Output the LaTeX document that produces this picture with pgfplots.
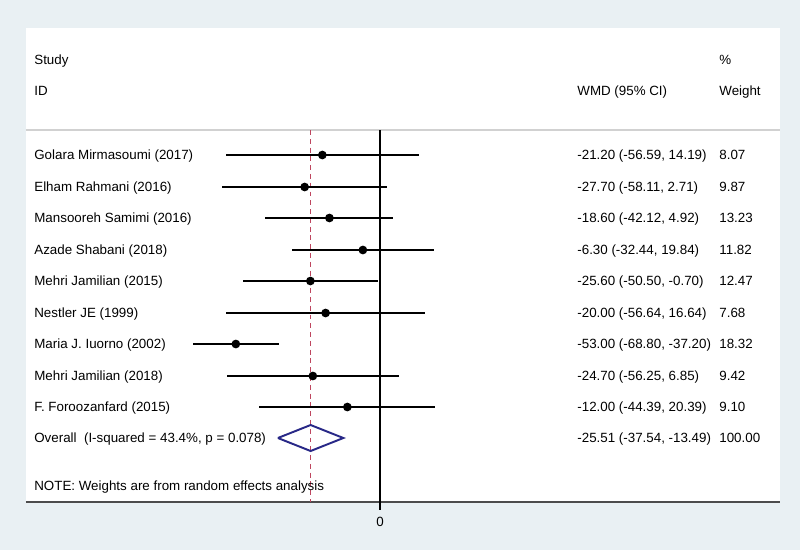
\documentclass[border=0pt]{standalone}
\usepackage{pgfplots}
\pgfplotsset{compat=1.18}
\usepackage{pgfplotstable}
\usepackage{fontspec}
\setmainfont{Liberation Sans}

\definecolor{bgblue}{RGB}{233,240,243}
\definecolor{refred}{RGB}{190,70,95}
\definecolor{navy}{RGB}{40,40,135}

\tikzset{lbl/.style={anchor=base west, inner sep=0pt, yshift=-2.7pt,
  font=\fontsize{7.6}{9}\selectfont}}

% y = row position (px from top), est, lower, upper
\pgfplotstableread{
y    est     lo      hi
155 -21.20 -56.59  14.19
187 -27.70 -58.11   2.71
218 -18.60 -42.12   4.92
250  -6.30 -32.44  19.84
281 -25.60 -50.50  -0.70
313 -20.00 -56.64  16.64
344 -53.00 -68.80 -37.20
376 -24.70 -56.25   6.85
407 -12.00 -44.39  20.39
}\studies

\begin{document}
\begin{tikzpicture}
\fill[bgblue] (0,0) rectangle (16cm,11cm);
\begin{axis}[
  at={(0,0)}, anchor=south west,
  scale only axis, width=16cm, height=11cm,
  xmin=-139.7, xmax=154.4,
  ymin=0, ymax=550, y dir=reverse,
  axis lines=none, clip=false,
]
% panel
\fill[white] (axis cs:-130.15,28) rectangle (axis cs:147.06,502);
\draw[black!18, line width=1.1pt] (axis cs:-130.15,130) -- (axis cs:147.06,130);
\draw[black!70, line width=0.9pt] (axis cs:-130.15,502) -- (axis cs:147.06,502);

% reference lines
\addplot[refred, line width=0.85pt, dash pattern=on 2.8pt off 2.2pt] coordinates {(-25.51,130) (-25.51,502)};
\addplot[black, line width=0.8pt] coordinates {(0,130) (0,510)};

% studies
\addplot[black, only marks, mark=*, mark size=2pt, line width=0.9pt,
  error bars/.cd, x dir=both, x explicit, error mark=none,
  error bar style={line width=0.9pt}]
  table[x=est, y=y,
        x error minus expr=\thisrow{est}-\thisrow{lo},
        x error plus expr=\thisrow{hi}-\thisrow{est}] {\studies};

% overall diamond
\addplot[navy, line width=1.1pt] coordinates {
  (-37.54,438) (-25.51,425) (-13.49,438) (-25.51,451) (-37.54,438)};

% text
\node[lbl] at (axis cs:-127.2,60) {Study};
\node[lbl] at (axis cs:-127.2,91) {ID};
\node[lbl] at (axis cs:72.43,91) {WMD (95\% CI)};
\node[lbl] at (axis cs:124.63,60) {\%};
\node[lbl] at (axis cs:124.63,91) {Weight};

\node[lbl] at (axis cs:-127.2,155) {Golara Mirmasoumi (2017)};
\node[lbl] at (axis cs:-127.2,187) {Elham Rahmani (2016)};
\node[lbl] at (axis cs:-127.2,218) {Mansooreh Samimi (2016)};
\node[lbl] at (axis cs:-127.2,250) {Azade Shabani (2018)};
\node[lbl] at (axis cs:-127.2,281) {Mehri Jamilian (2015)};
\node[lbl] at (axis cs:-127.2,313) {Nestler JE (1999)};
\node[lbl] at (axis cs:-127.2,344) {Maria J. Iuorno (2002)};
\node[lbl] at (axis cs:-127.2,376) {Mehri Jamilian (2018)};
\node[lbl] at (axis cs:-127.2,407) {F. Foroozanfard (2015)};
\node[lbl] at (axis cs:-127.2,438) {Overall\ \ (I-squared = 43.4\%, p = 0.078)};
\node[lbl] at (axis cs:-127.2,486) {NOTE: Weights are from random effects analysis};

\node[lbl] at (axis cs:72.43,155) {-21.20 (-56.59, 14.19)};
\node[lbl] at (axis cs:72.43,187) {-27.70 (-58.11, 2.71)};
\node[lbl] at (axis cs:72.43,218) {-18.60 (-42.12, 4.92)};
\node[lbl] at (axis cs:72.43,250) {-6.30 (-32.44, 19.84)};
\node[lbl] at (axis cs:72.43,281) {-25.60 (-50.50, -0.70)};
\node[lbl] at (axis cs:72.43,313) {-20.00 (-56.64, 16.64)};
\node[lbl] at (axis cs:72.43,344) {-53.00 (-68.80, -37.20)};
\node[lbl] at (axis cs:72.43,376) {-24.70 (-56.25, 6.85)};
\node[lbl] at (axis cs:72.43,407) {-12.00 (-44.39, 20.39)};
\node[lbl] at (axis cs:72.43,438) {-25.51 (-37.54, -13.49)};

\node[lbl] at (axis cs:124.63,155) {8.07};
\node[lbl] at (axis cs:124.63,187) {9.87};
\node[lbl] at (axis cs:124.63,218) {13.23};
\node[lbl] at (axis cs:124.63,250) {11.82};
\node[lbl] at (axis cs:124.63,281) {12.47};
\node[lbl] at (axis cs:124.63,313) {7.68};
\node[lbl] at (axis cs:124.63,344) {18.32};
\node[lbl] at (axis cs:124.63,376) {9.42};
\node[lbl] at (axis cs:124.63,407) {9.10};
\node[lbl] at (axis cs:124.63,438) {100.00};

\node[lbl, anchor=base] at (axis cs:0,522) {0};
\end{axis}
\end{tikzpicture}
\end{document}
